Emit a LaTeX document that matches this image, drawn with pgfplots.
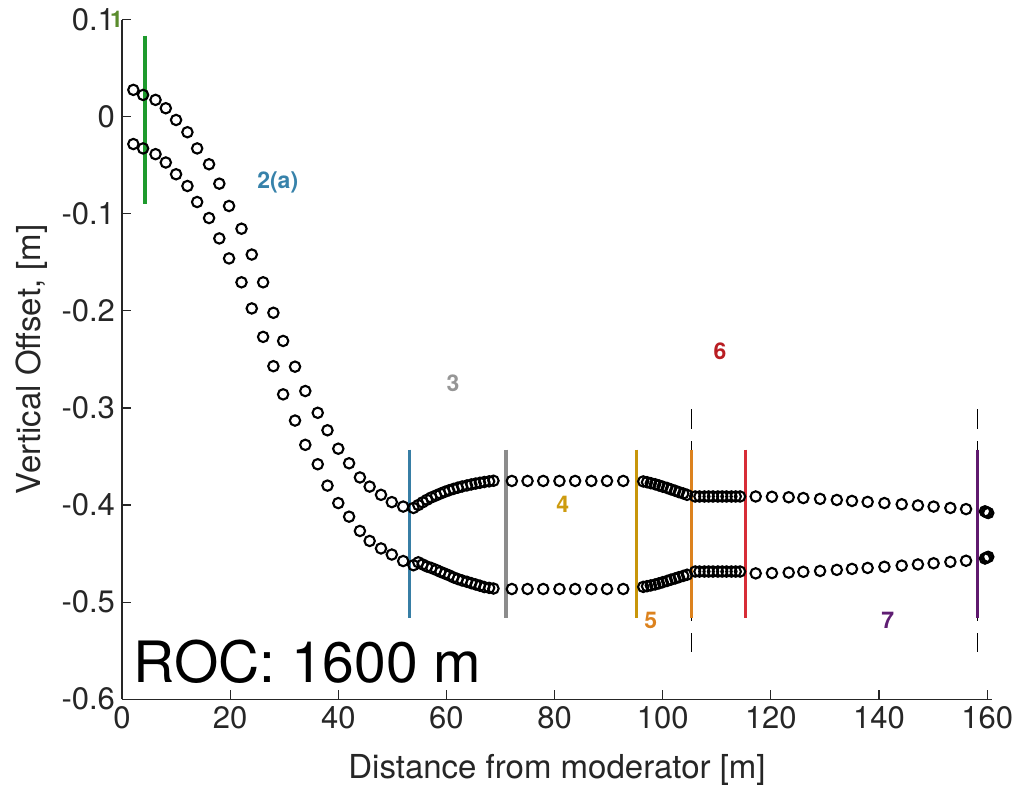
\documentclass[border=0pt]{standalone}
\usepackage{pgfplots}
\pgfplotsset{compat=1.18}
\usepackage{pgfplotstable}
\usepackage{fontspec}
\setmainfont{TeX Gyre Heros}
\usetikzlibrary{calc}

\definecolor{axgray}{RGB}{38,38,38}
\definecolor{cgreen}{RGB}{30,154,45}
\definecolor{cblue}{RGB}{55,126,165}
\definecolor{cgray}{RGB}{140,140,140}
\definecolor{cgold}{RGB}{200,150,10}
\definecolor{corange}{RGB}{220,130,30}
\definecolor{cred}{RGB}{215,45,55}
\definecolor{cpurple}{RGB}{95,25,110}
\definecolor{lone}{RGB}{90,140,45}
\definecolor{ltwo}{RGB}{55,130,170}
\definecolor{lthree}{RGB}{150,150,150}
\definecolor{lfour}{RGB}{205,155,15}
\definecolor{lfive}{RGB}{220,130,30}
\definecolor{lsix}{RGB}{185,30,35}
\definecolor{lseven}{RGB}{95,30,115}

\pgfplotstableread{
x y
2.1 0.0276
3.9 0.0224
6.2 0.0173
8.1 0.0087
10.0 -0.0034
12.1 -0.0160
13.9 -0.0327
16.1 -0.0490
18.0 -0.0690
19.8 -0.0920
22.1 -0.1154
24.0 -0.1420
26.1 -0.1706
28.0 -0.2020
29.8 -0.2310
32.0 -0.2575
33.9 -0.2826
36.2 -0.3050
38.0 -0.3230
40.0 -0.3420
42.0 -0.3570
44.0 -0.3716
45.8 -0.3810
47.9 -0.3895
49.9 -0.3970
52.0 -0.4016
53.9 -0.4030
54.8 -0.4000
55.6 -0.3972
56.4 -0.3946
57.2 -0.3922
58.1 -0.3901
58.9 -0.3882
59.7 -0.3864
60.5 -0.3848
61.3 -0.3834
62.1 -0.3821
62.9 -0.3809
63.8 -0.3798
64.6 -0.3788
65.4 -0.3779
66.2 -0.3771
67.0 -0.3763
67.9 -0.3756
68.7 -0.3750
72.1 -0.3752
75.0 -0.3752
77.9 -0.3752
80.9 -0.3752
83.8 -0.3752
86.8 -0.3752
89.7 -0.3752
92.7 -0.3752
96.4 -0.3757
97.1 -0.3765
97.8 -0.3775
98.6 -0.3786
99.3 -0.3798
100.0 -0.3811
100.8 -0.3824
101.5 -0.3838
102.3 -0.3853
103.0 -0.3867
103.8 -0.3881
104.5 -0.3895
106.0 -0.3912
106.8 -0.3912
107.7 -0.3912
108.5 -0.3912
109.3 -0.3912
110.2 -0.3912
111.0 -0.3912
111.8 -0.3912
112.7 -0.3912
113.5 -0.3912
114.3 -0.3912
117.2 -0.3912
120.2 -0.3915
123.3 -0.3920
126.0 -0.3928
129.1 -0.3937
132.2 -0.3948
135.0 -0.3958
137.9 -0.3968
141.0 -0.3980
144.2 -0.3992
147.2 -0.4004
150.1 -0.4016
153.2 -0.4030
156.1 -0.4042
159.6 -0.4065
159.9 -0.4075
160.2 -0.4082
}\upperdata

\pgfplotstableread{
x y
2.1 -0.0282
3.9 -0.0327
6.2 -0.0386
8.1 -0.0472
10.0 -0.0593
12.1 -0.0714
13.9 -0.0879
16.1 -0.1044
18.0 -0.1254
19.8 -0.1460
22.1 -0.1706
24.0 -0.1975
26.1 -0.2268
28.0 -0.2570
29.8 -0.2860
32.0 -0.3130
33.9 -0.3380
36.2 -0.3580
38.0 -0.3800
40.0 -0.3980
42.0 -0.4120
44.0 -0.4267
45.8 -0.4370
47.9 -0.4447
49.9 -0.4510
52.0 -0.4577
53.9 -0.4620
54.8 -0.4590
55.6 -0.4612
56.4 -0.4633
57.2 -0.4648
58.1 -0.4668
58.9 -0.4688
59.7 -0.4706
60.5 -0.4724
61.3 -0.4745
62.1 -0.4762
62.9 -0.4777
63.8 -0.4791
64.6 -0.4805
65.4 -0.4818
66.2 -0.4831
67.0 -0.4845
67.9 -0.4853
68.7 -0.4860
72.1 -0.4865
75.0 -0.4865
77.9 -0.4865
80.9 -0.4865
83.8 -0.4865
86.8 -0.4865
89.7 -0.4865
92.7 -0.4865
96.4 -0.4843
97.1 -0.4836
97.8 -0.4828
98.6 -0.4818
99.3 -0.4807
100.0 -0.4795
100.8 -0.4782
101.5 -0.4769
102.3 -0.4756
103.0 -0.4743
103.8 -0.4730
104.5 -0.4718
106.0 -0.4685
106.8 -0.4685
107.7 -0.4685
108.5 -0.4685
109.3 -0.4685
110.2 -0.4685
111.0 -0.4685
111.8 -0.4685
112.7 -0.4685
113.5 -0.4685
114.3 -0.4685
117.2 -0.4704
120.2 -0.4701
123.3 -0.4696
126.0 -0.4688
129.1 -0.4679
132.2 -0.4668
135.0 -0.4658
137.9 -0.4648
141.0 -0.4636
144.2 -0.4624
147.2 -0.4612
150.1 -0.4600
153.2 -0.4586
156.1 -0.4574
159.6 -0.4551
159.9 -0.4541
160.2 -0.4534
}\lowerdata

\begin{document}
\begin{tikzpicture}
\begin{axis}[
  scale only axis,
  width=435pt, height=339.8pt,
  xmin=0, xmax=160.9, ymin=-0.6, ymax=0.1,
  axis x line*=bottom, axis y line*=left,
  axis line style={axgray, line width=0.6pt},
  tick align=inside, major tick length=4.5pt,
  tick style={axgray, line width=0.6pt},
  xtick={0,20,40,60,80,100,120,140,160},
  xticklabels={0,20,40,60,80,100,120,140,160},
  ytick={-0.6,-0.5,-0.4,-0.3,-0.2,-0.1,0,0.1},
  yticklabels={-0.6,-0.5,-0.4,-0.3,-0.2,-0.1,0,0.1},
  ticklabel style={font=\fontsize{15.5}{18}\selectfont, text=axgray},
  xlabel={Distance from moderator [m]},
  ylabel={Vertical Offset, [m]},
  label style={font=\fontsize{16.5}{20}\selectfont, text=axgray},
  xlabel style={yshift=-6pt},
  clip=false,
]
\addplot[only marks, mark=o, mark size=2.6pt, line width=1.05pt, mark options={line width=1.05pt, black}] table[x=x,y=y]{\upperdata};
\addplot[only marks, mark=o, mark size=2.6pt, line width=1.05pt, mark options={line width=1.05pt, black}] table[x=x,y=y]{\lowerdata};

\addplot[black, line width=0.5pt, dash pattern=on 10pt off 6pt] coordinates {(105.3,-0.3016) (105.3,-0.5515)};
\addplot[black, line width=0.5pt, dash pattern=on 10pt off 6pt] coordinates {(158.3,-0.3016) (158.3,-0.5515)};

\addplot[cgreen, line width=1.6pt] coordinates {(4.25,0.0834) (4.25,-0.0896)};
\addplot[cblue, line width=1.6pt] coordinates {(53.1,-0.343) (53.1,-0.516)};
\addplot[cgray, line width=1.6pt] coordinates {(71.0,-0.343) (71.0,-0.516)};
\addplot[cgold, line width=1.6pt] coordinates {(95.1,-0.343) (95.1,-0.516)};
\addplot[corange, line width=1.6pt] coordinates {(105.3,-0.343) (105.3,-0.516)};
\addplot[cred, line width=1.6pt] coordinates {(115.3,-0.343) (115.3,-0.516)};
\addplot[cpurple, line width=1.6pt] coordinates {(158.2,-0.343) (158.2,-0.516)};

\node[text=lone, font=\bfseries\fontsize{11.5}{14}\selectfont] at (axis cs:-1,0.1005) {1};
\node[text=ltwo, font=\bfseries\fontsize{11.5}{14}\selectfont] at (axis cs:28.8,-0.0672) {2(a)};
\node[text=lthree, font=\bfseries\fontsize{11.5}{14}\selectfont] at (axis cs:61.2,-0.2749) {3};
\node[text=lfour, font=\bfseries\fontsize{11.5}{14}\selectfont] at (axis cs:81.5,-0.399) {4};
\node[text=lfive, font=\bfseries\fontsize{11.5}{14}\selectfont] at (axis cs:97.8,-0.5187) {5};
\node[text=lsix, font=\bfseries\fontsize{11.5}{14}\selectfont] at (axis cs:110.6,-0.2413) {6};
\node[text=lseven, font=\bfseries\fontsize{11.5}{14}\selectfont] at (axis cs:141.6,-0.5187) {7};

\node[anchor=base west, inner sep=0pt, font=\fontsize{28.5}{34}\selectfont] at (axis cs:2.1,-0.5825) {ROC: 1600 m};
\end{axis}
\pgfresetboundingbox
\path[use as bounding box] ($(current axis.south west)+(-61pt,-48.85pt)$) rectangle ($(current axis.north east)+(12pt,9.8pt)$);
\end{tikzpicture}
\end{document}
